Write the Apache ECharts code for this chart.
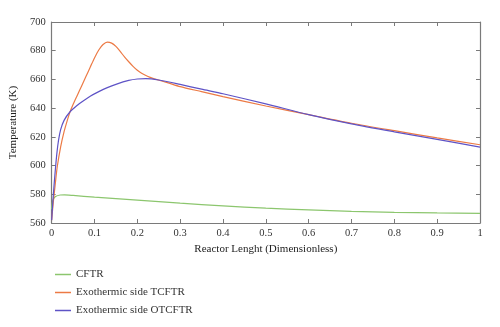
<!DOCTYPE html>
<html>
<head>
<meta charset="utf-8">
<script src="https://cdn.jsdelivr.net/npm/echarts@6/dist/echarts.min.js"></script>
<style>
  html, body { margin: 0; padding: 0; background: #fff; }
  #chart { width: 500px; height: 327px; }
</style>
</head>
<body>
<div id="chart"></div>
<script>
// Temperature profiles along the reactor length
const seriesNames = ['CFTR', 'Exothermic side TCFTR', 'Exothermic side OTCFTR'];

const cftrX = [0, 0.003, 0.009, 0.02, 0.03, 0.05, 0.1, 0.2, 0.3, 0.4, 0.5, 0.6, 0.7, 0.8, 0.9, 1.0];
const cftrT = [569.5, 576, 578.4, 579.5, 579.6, 579.2, 578, 576, 573.8, 571.9, 570.3, 569.1, 568.1, 567.4, 567, 566.7];

const tcftrX = [0, 0.004, 0.008, 0.013, 0.021, 0.029, 0.036, 0.043, 0.05, 0.06, 0.07, 0.08, 0.09, 0.1, 0.11, 0.12, 0.13, 0.14, 0.15, 0.16, 0.17, 0.18, 0.19, 0.2, 0.21, 0.22, 0.23, 0.24, 0.27, 0.3, 0.35, 0.4, 0.5, 0.6, 0.7, 0.8, 0.9, 1.0];
const tcftrT = [562, 575, 586, 599, 613, 623.6, 631, 637.5, 642.5, 649, 655.5, 662, 668.5, 675, 680.5, 684.3, 686, 685.3, 683, 679.5, 675.7, 672.3, 669.1, 666.4, 664.3, 662.7, 661.4, 660.4, 657.8, 655, 651.5, 648, 641.5, 635.5, 629.5, 624.3, 619.3, 614.5];

const otcftrX = [0, 0.004, 0.008, 0.012, 0.016, 0.021, 0.029, 0.043, 0.06, 0.071, 0.09, 0.11, 0.13, 0.15, 0.18, 0.2, 0.22, 0.25, 0.3, 0.35, 0.4, 0.5, 0.6, 0.7, 0.8, 0.9, 1.0];
const otcftrT = [562, 580, 595, 608, 617.5, 625, 631.5, 637.5, 642, 644.5, 648.3, 651.5, 654.3, 656.6, 659.3, 660.3, 660.6, 659.6, 656.5, 653.2, 650, 643, 635.5, 629, 623.5, 618.3, 612.8];

const colors = ['#8cc66e', '#ec7a45', '#5e53c6'];

function pairs(xs, ys) {
  return xs.map((x, i) => [x, ys[i]]);
}

const font = 'Liberation Serif';
const axisColor = '#7a7a7a';

const chart = echarts.init(document.getElementById('chart'), null, { renderer: 'canvas' });

const boxAxis = {
  axisLine: { show: true, onZero: false, lineStyle: { color: axisColor, width: 1.2 } },
  axisTick: { show: true, inside: true, length: 4, lineStyle: { color: axisColor } },
  splitLine: { show: false }
};

chart.setOption({
  animation: false,
  color: colors,
  textStyle: { fontFamily: font },
  grid: { left: 51, right: 20, top: 22, bottom: 104 },
  legend: {
    orient: 'vertical',
    left: 50,
    top: 264,
    itemWidth: 16,
    itemHeight: 1.5,
    itemGap: 7,
    icon: 'rect',
    textStyle: { fontFamily: font, fontSize: 11, color: '#333' },
    data: seriesNames
  },
  xAxis: [
    Object.assign({
      type: 'value', min: 0, max: 1, interval: 0.1, position: 'bottom',
      name: 'Reactor Lenght (Dimensionless)',
      nameLocation: 'middle', nameGap: 19,
      nameTextStyle: { fontFamily: font, fontSize: 11, color: '#222' },
      axisLabel: { fontFamily: font, fontSize: 10.5, color: '#333', margin: 5,
        formatter: v => String(Math.round(v * 10) / 10) }
    }, boxAxis),
    Object.assign({
      type: 'value', min: 0, max: 1, interval: 0.1, position: 'top',
      axisLabel: { show: false }
    }, boxAxis)
  ],
  yAxis: [
    Object.assign({
      type: 'value', min: 560, max: 700, interval: 20, position: 'left',
      name: 'Temperature (K)',
      nameLocation: 'middle', nameGap: 29, nameRotate: 90,
      nameTextStyle: { fontFamily: font, fontSize: 11, color: '#222' },
      axisLabel: { fontFamily: font, fontSize: 10.5, color: '#333', margin: 6 }
    }, boxAxis),
    Object.assign({
      type: 'value', min: 560, max: 700, interval: 20, position: 'right',
      axisLabel: { show: false }
    }, boxAxis)
  ],
  series: [
    { name: seriesNames[0], type: 'line', data: pairs(cftrX, cftrT), smooth: 0.25, showSymbol: false, lineStyle: { width: 1.2 } },
    { name: seriesNames[1], type: 'line', data: pairs(tcftrX, tcftrT), smooth: 0.25, showSymbol: false, lineStyle: { width: 1.2 } },
    { name: seriesNames[2], type: 'line', data: pairs(otcftrX, otcftrT), smooth: 0.25, showSymbol: false, lineStyle: { width: 1.2 } }
  ]
});
</script>
</body>
</html>
